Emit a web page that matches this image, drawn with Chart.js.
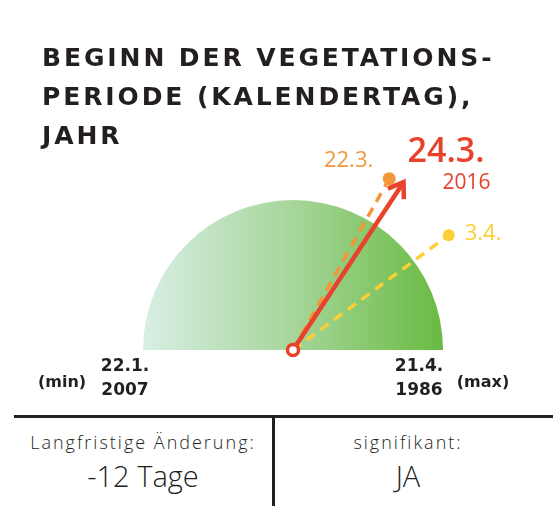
<title>Beginn der Vegetationsperiode</title>
<script src="https://cdn.jsdelivr.net/npm/chart.js@4/dist/chart.umd.min.js"></script>
<style>
body{margin:0;background:#fff;font-family:"DejaVu Sans",sans-serif;}
#wrap{position:relative;width:553px;height:506px;overflow:hidden;}
h1{position:absolute;left:42px;top:38px;margin:0;font:bold 25px/39px "DejaVu Sans",sans-serif;letter-spacing:2.9px;color:#231f20;z-index:2;white-space:nowrap;}
#box{position:absolute;left:0;top:0;width:553px;height:410px;}
#hline{position:absolute;left:14px;top:415px;width:539px;height:3px;background:#231f20;}
#vline{position:absolute;left:272px;top:415px;width:3px;height:91px;background:#231f20;}
.cap{position:absolute;top:430px;text-align:center;font:300 18px "Open Sans",sans-serif;letter-spacing:2px;color:#231f20;}
.val{position:absolute;top:456px;text-align:center;font:300 29px "Open Sans",sans-serif;color:#231f20;}
</style>
<div id=wrap>
<h1>BEGINN DER VEGETATIONS-<br>PERIODE (KALENDERTAG),<br>JAHR</h1>
<div id=box><canvas id="myChart"></canvas></div>
<div id=hline></div><div id=vline></div>
<div class=cap style="left:14px;width:258px">Langfristige Änderung:</div>
<div class=val style="left:14px;width:258px">-12 Tage</div>
<div class=cap style="left:275px;width:266px">signifikant:</div>
<div class=val style="left:275px;width:266px">JA</div>
</div>
<script>
// gauge ends: earliest / latest start (day of year)
var rangeDays = [22, 111];
var rangeLabels = ['22.1.', '21.4.'];
var rangeYears = ['2007', '1986'];
var rangeTags = ['(min)', '(max)'];
// markers: two reference values and the current year
var markDays = [81, 93];
var markLabels = ['22.3.', '3.4.'];
var yearDay = 83;
var yearLabel = '24.3.';
var yearName = '2016';

var RED = '#e8412c', ORANGE = '#f3963a', YELLOW = '#fccf36';

function pt(day, len){
  var a = Math.PI * (1 - (day - rangeDays[0]) / (rangeDays[1] - rangeDays[0]));
  return {x: Math.cos(a) * len, y: Math.sin(a) * len};
}

var halfDisc = {
  id: 'halfDisc',
  beforeDatasetsDraw: function(chart){
    var c = chart.ctx, sx = chart.scales.x, sy = chart.scales.y;
    var cx = sx.getPixelForValue(0), cy = sy.getPixelForValue(0);
    var r = sx.getPixelForValue(1) - cx;
    var g = c.createLinearGradient(cx - r, 0, cx + r, 0);
    g.addColorStop(0, '#d8eee4');
    g.addColorStop(0.5, '#a6d69a');
    g.addColorStop(1, '#69ba41');
    c.save();
    c.beginPath();
    c.moveTo(cx - r, cy);
    c.arc(cx, cy, r, Math.PI, 0);
    c.closePath();
    c.fillStyle = g;
    c.fill();
    c.restore();
  },
  afterDatasetsDraw: function(chart){
    var c = chart.ctx, sx = chart.scales.x, sy = chart.scales.y;
    var cx = sx.getPixelForValue(0), cy = sy.getPixelForValue(0);
    // arrow head
    var tip = pt(yearDay, 1.34);
    var tx = sx.getPixelForValue(tip.x), ty = sy.getPixelForValue(tip.y);
    var ang = Math.atan2(ty - cy, tx - cx), L = 17, sp = 0.6;
    c.save();
    c.strokeStyle = RED; c.lineWidth = 4.5; c.lineJoin = 'miter'; c.lineCap = 'butt';
    c.beginPath();
    c.moveTo(tx - L * Math.cos(ang - sp), ty - L * Math.sin(ang - sp));
    c.lineTo(tx, ty);
    c.lineTo(tx - L * Math.cos(ang + sp), ty - L * Math.sin(ang + sp));
    c.stroke();
    // labels at the markers
    c.textBaseline = 'middle';
    var p0 = pt(markDays[0], 1.31);
    c.fillStyle = ORANGE; c.font = '22px "Open Sans"'; c.textAlign = 'right';
    c.fillText(markLabels[0], sx.getPixelForValue(p0.x) - 16, sy.getPixelForValue(p0.y) - 18);
    var p1 = pt(markDays[1], 1.29);
    c.fillStyle = YELLOW; c.textAlign = 'left';
    c.fillText(markLabels[1], sx.getPixelForValue(p1.x) + 16, sy.getPixelForValue(p1.y) - 1);
    c.fillStyle = RED; c.font = '600 34px "Open Sans"'; c.textAlign = 'left';
    c.fillText(yearLabel, tx + 4, ty - 30);
    c.font = '21px "Open Sans"'; c.textAlign = 'right';
    c.fillText(yearName, tx + 87, ty + 1);
    // gauge end labels
    c.fillStyle = '#231f20';
    var ends = [sx.getPixelForValue(-1), sx.getPixelForValue(1)];
    var offs = [-18, -24];
    for (var i = 0; i < 2; i++){
      var lx = ends[i] + offs[i];
      c.textAlign = 'center';
      c.font = 'bold 17px "DejaVu Sans"';
      c.fillText(rangeLabels[i], lx, cy + 17);
      c.fillText(rangeYears[i], lx, cy + 41);
      c.font = 'bold 16px "DejaVu Sans"';
      c.fillText(rangeTags[i], lx + (i ? 64 : -63), cy + 33);
    }
    c.restore();
  }
};

var pa = pt(markDays[0], 1.31), pb = pt(markDays[1], 1.29), pc = pt(yearDay, 1.32);
var ctx = document.getElementById('myChart');
var myChart = new Chart(ctx, {
  type: 'scatter',
  data: {datasets: [
    {label: yearName, data: [{x:0,y:0}, pc], showLine: true,
      borderColor: RED, borderWidth: 4.5,
      pointRadius: [5.5, 0], pointBorderWidth: 3.5,
      pointBackgroundColor: '#fff', pointBorderColor: RED},
    {label: markLabels[0], data: [{x:0,y:0}, pa], showLine: true,
      borderColor: ORANGE, borderWidth: 3.5, borderDash: [10, 7],
      pointRadius: [0, 6.5], pointBackgroundColor: ORANGE, pointBorderWidth: 0},
    {label: markLabels[1], data: [{x:0,y:0}, pb], showLine: true,
      borderColor: YELLOW, borderWidth: 3.5, borderDash: [10, 7],
      pointRadius: [0, 6], pointBackgroundColor: YELLOW, pointBorderWidth: 0}
  ]},
  options: {
    responsive: true, maintainAspectRatio: false, animation: false,
    layout: {padding: 0, autoPadding: false},
    scales: {
      x: {type: 'linear', display: false, min: -293/150, max: 260/150},
      y: {type: 'linear', display: false, min: -60/150, max: 350/150}
    },
    plugins: {legend: {display: false}, tooltip: {enabled: false}}
  },
  plugins: [halfDisc]
});
</script>
